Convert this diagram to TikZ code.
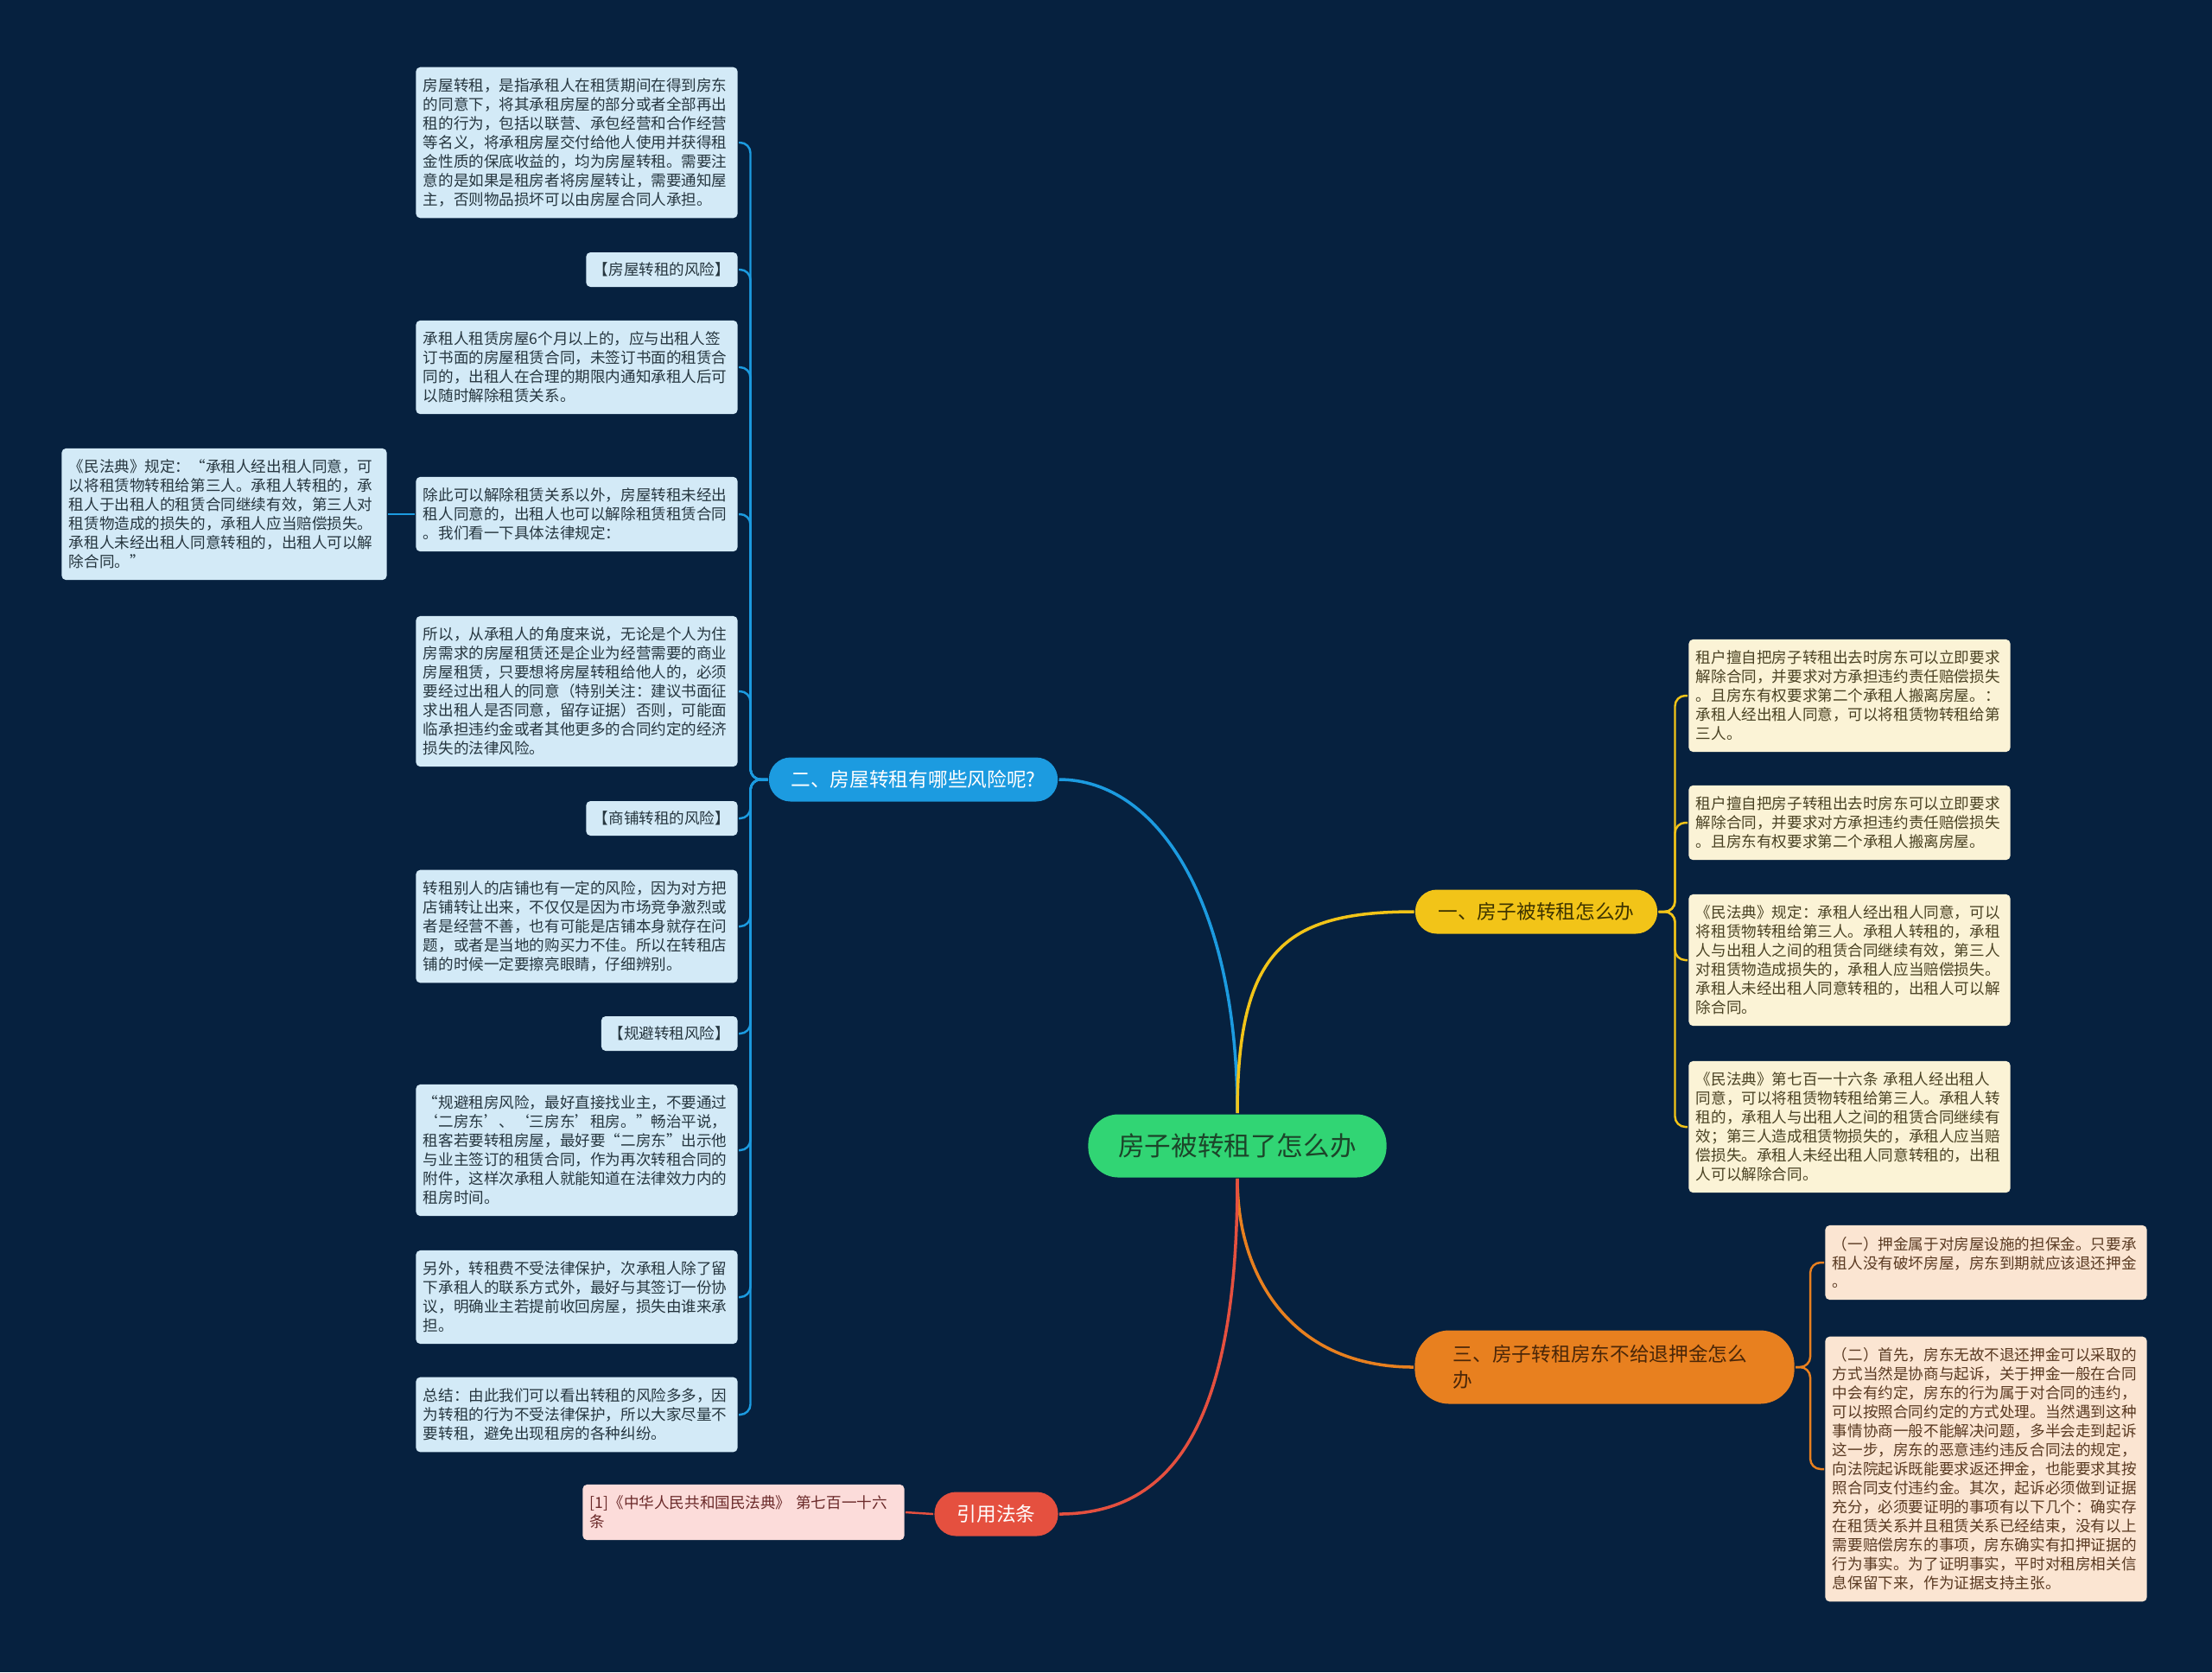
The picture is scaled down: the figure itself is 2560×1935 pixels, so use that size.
\documentclass[tikz,border=0pt]{standalone}
\usepackage{fontspec}
\setmainfont{Noto Sans CJK SC}
\setlength{\parindent}{0pt}

\definecolor{bgnavy}{HTML}{06213F}
\definecolor{skyline}{HTML}{1C9BE0}
\definecolor{skyfill}{HTML}{D3EAF7}
\definecolor{skytext}{HTML}{26363F}
\definecolor{rootfill}{HTML}{31D574}
\definecolor{roottext}{HTML}{1C4429}
\definecolor{goldline}{HTML}{F2C418}
\definecolor{goldtext}{HTML}{3D3300}
\definecolor{creamfill}{HTML}{FBF3D6}
\definecolor{creamtext}{HTML}{4A4223}
\definecolor{amberline}{HTML}{E8801F}
\definecolor{ambertext}{HTML}{4A2608}
\definecolor{peachfill}{HTML}{FBE5D2}
\definecolor{peachtext}{HTML}{5A3A22}
\definecolor{coralline}{HTML}{E5503F}
\definecolor{pinkfill}{HTML}{FCDCDA}
\definecolor{pinktext}{HTML}{6B2A2A}

\newcommand{\boxfont}{\fontsize{5pt}{6.25pt}\selectfont}
\newcommand{\branchfont}{\fontsize{6.45pt}{8.5pt}\selectfont}

\begin{document}
\begin{tikzpicture}[x=0.01cm, y=-0.01cm, thick]
    \tikzstyle{root} = [rectangle, fill=rootfill, text=roottext, rounded corners=0.35cm, minimum width=3.45cm, minimum height=0.73cm, font=\fontsize{8.7pt}{10pt}\selectfont]
    \tikzstyle{branch} = [rectangle, rounded corners=0.25cm, minimum height=0.51cm, font=\branchfont]
    \tikzstyle{textbox} = [rectangle, rounded corners=0.05cm, text width=3.55cm, align=left, inner xsep=0.085cm, inner ysep=0.13cm, font=\boxfont]
    \tikzstyle{tagbox} = [rectangle, rounded corners=0.05cm, inner xsep=0.085cm, minimum height=0.4cm, font=\boxfont]
    \tikzstyle{skybox} = [textbox, fill=skyfill, text=skytext, anchor=east]
    \tikzstyle{skytag} = [tagbox, fill=skyfill, text=skytext, anchor=east]
    \tikzstyle{creambox} = [textbox, fill=creamfill, text=creamtext, anchor=west]
    \tikzstyle{peachbox} = [textbox, fill=peachfill, text=peachtext, anchor=west]
    \tikzstyle{mainline} = [draw, line width=1pt]
    \tikzstyle{subline} = [draw, line width=0.7pt, rounded corners=0.12cm]

    % Background
    \fill [bgnavy] (0,0) rectangle (2560,1935);
    \useasboundingbox (0,0) rectangle (2560,1935);

    % Nodes
    \node [root] (main) at (1432,1326) {房子被转租了怎么办};
    \node [branch, fill=skyline, text=white, minimum width=3.34cm] (risks) at (1057,902) {二、房屋转租有哪些风险呢?};
    \node [branch, fill=goldline, text=goldtext, minimum width=2.8cm] (handle) at (1778,1055) {一、房子被转租怎么办};
    \node [branch, fill=amberline, text=ambertext, rounded corners=0.4cm, text width=3.5cm, align=left, inner xsep=0.445cm, minimum height=0.85cm] (deposit) at (1857,1582) {三、房子转租房东不给退押金怎么\\办};
    \node [branch, fill=coralline, text=white, minimum width=1.43cm] (cite) at (1153,1752) {引用法条};

    \node [skybox] (riskdef) at (855,165) {房屋转租，是指承租人在租赁期间在得到房东\\的同意下，将其承租房屋的部分或者全部再出\\租的行为，包括以联营、承包经营和合作经营\\等名义，将承租房屋交付给他人使用并获得租\\金性质的保底收益的，均为房屋转租。需要注\\意的是如果是租房者将房屋转让，需要通知屋\\主，否则物品损坏可以由房屋合同人承担。};
    \node [skytag] (taghouse) at (855,312) {【房屋转租的风险】};
    \node [skybox] (lease) at (855,425) {承租人租赁房屋6个月以上的，应与出租人签\\订书面的房屋租赁合同，未签订书面的租赁合\\同的，出租人在合理的期限内通知承租人后可\\以随时解除租赁关系。};
    \node [skybox] (terminate) at (855,595) {除此可以解除租赁关系以外，房屋转租未经出\\租人同意的，出租人也可以解除租赁租赁合同\\。我们看一下具体法律规定：};
    \node [skybox, text width=3.59cm] (civilcode) at (449,595) {《民法典》规定：“承租人经出租人同意，可\\以将租赁物转租给第三人。承租人转租的，承\\租人于出租人的租赁合同继续有效，第三人对\\租赁物造成的损失的，承租人应当赔偿损失。\\承租人未经出租人同意转租的，出租人可以解\\除合同。”};
    \node [skybox] (consent) at (855,800) {所以，从承租人的角度来说，无论是个人为住\\房需求的房屋租赁还是企业为经营需要的商业\\房屋租赁，只要想将房屋转租给他人的，必须\\要经过出租人的同意（特别关注：建议书面征\\求出租人是否同意，留存证据）否则，可能面\\临承担违约金或者其他更多的合同约定的经济\\损失的法律风险。};
    \node [skytag] (tagshop) at (855,947) {【商铺转租的风险】};
    \node [skybox] (shop) at (855,1072) {转租别人的店铺也有一定的风险，因为对方把\\店铺转让出来，不仅仅是因为市场竞争激烈或\\者是经营不善，也有可能是店铺本身就存在问\\题，或者是当地的购买力不佳。所以在转租店\\铺的时候一定要擦亮眼睛，仔细辨别。};
    \node [skytag] (tagavoid) at (855,1196) {【规避转租风险】};
    \node [skybox] (avoid) at (855,1331) {“规避租房风险，最好直接找业主，不要通过\\‘二房东’、‘三房东’租房。”畅治平说，\\租客若要转租房屋，最好要“二房东”出示他\\与业主签订的租赁合同，作为再次转租合同的\\附件，这样次承租人就能知道在法律效力内的\\租房时间。};
    \node [skybox] (fee) at (855,1501) {另外，转租费不受法律保护，次承租人除了留\\下承租人的联系方式外，最好与其签订一份协\\议，明确业主若提前收回房屋，损失由谁来承\\担。};
    \node [skybox] (summary) at (855,1637) {总结：由此我们可以看出转租的风险多多，因\\为转租的行为不受法律保护，所以大家尽量不\\要转租，避免出现租房的各种纠纷。};

    \node [creambox] (landlordA) at (1953,805) {租户擅自把房子转租出去时房东可以立即要求\\解除合同，并要求对方承担违约责任赔偿损失\\。且房东有权要求第二个承租人搬离房屋。：\\承租人经出租人同意，可以将租赁物转租给第\\三人。};
    \node [creambox] (landlordB) at (1953,952) {租户擅自把房子转租出去时房东可以立即要求\\解除合同，并要求对方承担违约责任赔偿损失\\。且房东有权要求第二个承租人搬离房屋。};
    \node [creambox] (codeA) at (1953,1111) {《民法典》规定：承租人经出租人同意，可以\\将租赁物转租给第三人。承租人转租的，承租\\人与出租人之间的租赁合同继续有效，第三人\\对租赁物造成损失的，承租人应当赔偿损失。\\承租人未经出租人同意转租的，出租人可以解\\除合同。};
    \node [creambox] (codeB) at (1953,1304) {《民法典》第七百一十六条 承租人经出租人\\同意，可以将租赁物转租给第三人。承租人转\\租的，承租人与出租人之间的租赁合同继续有\\效；第三人造成租赁物损失的，承租人应当赔\\偿损失。承租人未经出租人同意转租的，出租\\人可以解除合同。};

    \node [peachbox] (guarantee) at (2111,1461) {（一）押金属于对房屋设施的担保金。只要承\\租人没有破坏房屋，房东到期就应该退还押金\\。};
    \node [peachbox] (lawsuit) at (2111,1700) {（二）首先，房东无故不退还押金可以采取的\\方式当然是协商与起诉，关于押金一般在合同\\中会有约定，房东的行为属于对合同的违约，\\可以按照合同约定的方式处理。当然遇到这种\\事情协商一般不能解决问题，多半会走到起诉\\这一步，房东的恶意违约违反合同法的规定，\\向法院起诉既能要求返还押金，也能要求其按\\照合同支付违约金。其次，起诉必须做到证据\\充分，必须要证明的事项有以下几个：确实存\\在租赁关系并且租赁关系已经结束，没有以上\\需要赔偿房东的事项，房东确实有扣押证据的\\行为事实。为了证明事实，平时对租房相关信\\息保留下来，作为证据支持主张。};

    \node [textbox, fill=pinkfill, text=pinktext, anchor=east] (article) at (1048,1750) {[1]《中华人民共和国民法典》 第七百一十六\\条};

    % Connections
    \path [mainline, skyline] (main.north) .. controls +(0,-240) and +(116,0) .. (risks.east);
    \path [mainline, goldline] (main.north) .. controls +(0,-190) and +(-148,0) .. (handle.west);
    \path [mainline, amberline] (main.south) .. controls +(0,117) and +(-138,0) .. (deposit.west);
    \path [mainline, coralline] (main.south) .. controls +(0,277) and +(135,0) .. (cite.east);

    \path [subline, skyline] (risks.west) -- ++(-20,0) |- (riskdef.east);
    \path [subline, skyline] (risks.west) -- ++(-20,0) |- (taghouse.east);
    \path [subline, skyline] (risks.west) -- ++(-20,0) |- (lease.east);
    \path [subline, skyline] (risks.west) -- ++(-20,0) |- (terminate.east);
    \path [subline, skyline] (risks.west) -- ++(-20,0) |- (consent.east);
    \path [subline, skyline] (risks.west) -- ++(-20,0) |- (tagshop.east);
    \path [subline, skyline] (risks.west) -- ++(-20,0) |- (shop.east);
    \path [subline, skyline] (risks.west) -- ++(-20,0) |- (tagavoid.east);
    \path [subline, skyline] (risks.west) -- ++(-20,0) |- (avoid.east);
    \path [subline, skyline] (risks.west) -- ++(-20,0) |- (fee.east);
    \path [subline, skyline] (risks.west) -- ++(-20,0) |- (summary.east);
    \path [subline, skyline] (terminate.west) -- (civilcode.east);

    \path [subline, goldline] (handle.east) -- ++(19,0) |- (landlordA.west);
    \path [subline, goldline] (handle.east) -- ++(19,0) |- (landlordB.west);
    \path [subline, goldline] (handle.east) -- ++(19,0) |- (codeA.west);
    \path [subline, goldline] (handle.east) -- ++(19,0) |- (codeB.west);

    \path [subline, amberline] (deposit.east) -- ++(17,0) |- (guarantee.west);
    \path [subline, amberline] (deposit.east) -- ++(17,0) |- (lawsuit.west);

    \path [subline, coralline] (cite.west) -- (article.east);
\end{tikzpicture}
\end{document}
